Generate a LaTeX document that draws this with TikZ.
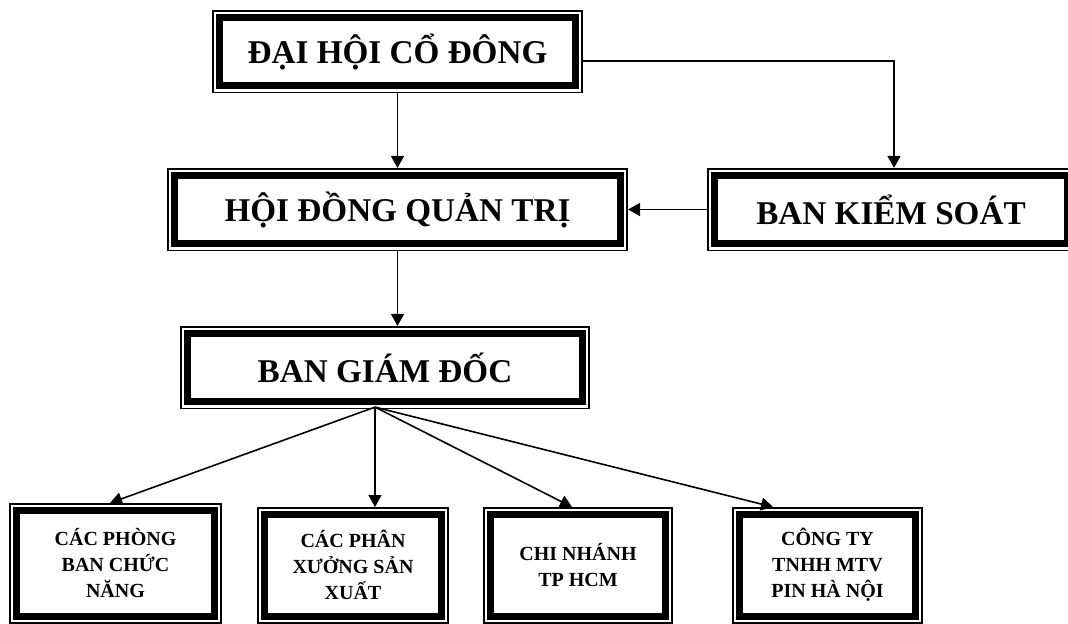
\documentclass[tikz,border=0pt]{standalone}
\usepackage{fontspec}
\setmainfont{Liberation Serif}
\usetikzlibrary{arrows.meta,positioning}

\begin{document}
\begin{tikzpicture}[x=0.5pt, y=-0.5pt,
  tkbox/.style={draw, line width=3.5pt, outer sep=3.6pt, inner sep=2pt,
                align=center,
                append after command={\pgfextra{\draw[line width=0.8pt]
                  ([shift={(0.4pt,0.4pt)}]\tikzlastnode.south west) rectangle
                  ([shift={(-0.4pt,-0.4pt)}]\tikzlastnode.north east);}}},
  big/.style={tkbox, font=\fontsize{16.6}{20}\selectfont\bfseries,
              minimum height=34.4pt},
  unit/.style={tkbox, font=\fontsize{10}{13}\selectfont\bfseries,
               minimum height=51.05pt},
  arrow/.style={-{Triangle[length=6pt,width=6.5pt]}, line width=0.8pt},
]
\path[use as bounding box, clip] (0,0) rectangle (1068,623);

% ---- Top levels ----
\node[big, minimum width=178.3pt] (dhcd) at (397.5,51.5) {ĐẠI HỘI CỔ ĐÔNG};
\node[big, minimum width=223.3pt] (hdqt) at (397.5,209.5) {HỘI ĐỒNG QUẢN TRỊ};
\node[big, minimum width=176.8pt] (bks) at (891,209.5) {BAN KIỂM SOÁT};
\node[big, minimum width=197.8pt] (bgd) at (385,367.5) {BAN GIÁM ĐỐC};

% ---- Units ----
\node[unit, minimum width=99.3pt, minimum height=53.05pt] (phong) at (115.5,563.25)
  {CÁC PHÒNG\\BAN CHỨC\\NĂNG};
\node[unit, minimum width=88.8pt] (xuong) at (353,565.25) {CÁC PHÂN\\XƯỞNG SẢN\\XUẤT};
\node[unit, minimum width=87.8pt] (chinhanh) at (578,565.25) {CHI NHÁNH\\TP HCM};
\node[unit, minimum width=88.3pt] (congty) at (827.5,565.25)
  {CÔNG TY\\TNHH MTV\\PIN HÀ NỘI};

% ---- Connections ----
\draw[arrow] (dhcd.south) -- (hdqt.north);
\draw[arrow] ([yshift=-4.75pt]dhcd.east) -| ([xshift=1.5pt]bks.north);
\draw[arrow] (bks.west) -- (hdqt.east);
\draw[arrow] (hdqt.south) -- (hdqt.south |- bgd.north);

\coordinate (hub) at ([xshift=-5pt,yshift=1pt]bgd.south);
\draw[arrow] (hub) -- ([xshift=-2.75pt]phong.north);
\draw[arrow] (hub) -- ([xshift=11pt]xuong.north);
\draw[arrow] (hub) -- ([xshift=-3pt]chinhanh.north);
\draw[arrow] (hub) -- ([xshift=-27.25pt]congty.north);

\end{tikzpicture}
\end{document}
